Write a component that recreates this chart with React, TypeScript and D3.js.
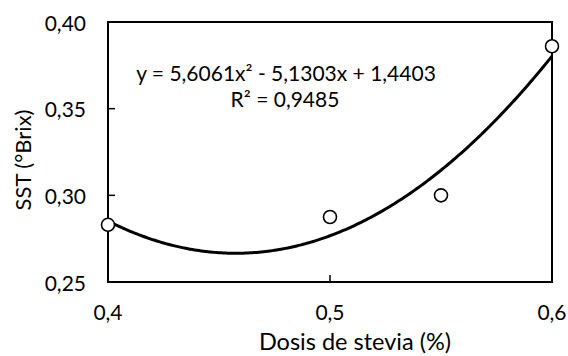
import React from "react";
import * as d3 from "d3";

const doses = [0.4, 0.5, 0.55, 0.6];
const sst = [0.283, 0.2875, 0.3, 0.386];
const xTicks = [0.4, 0.5, 0.6];
const yTicks = [0.25, 0.3, 0.35, 0.4];
const trendCoef = [5.6061, -5.1303, 1.4403];
const equationLabel = "y = 5,6061x² - 5,1303x + 1,4403";
const r2Label = "R² = 0,9485";
const xTitle = "Dosis de stevia (%)";
const yTitle = "SST (°Brix)";

const W = 568;
const H = 356;
const M = { left: 108, right: 552, top: 22, bottom: 282 };
const FONT = "Lato, 'Open Sans', sans-serif";

export default function App() {
  const x = d3.scaleLinear().domain([0.4, 0.6]).range([M.left, M.right]);
  const y = d3.scaleLinear().domain([0.25, 0.4]).range([M.bottom, M.top]);
  const fmt = (v: number, d: number) => v.toFixed(d).replace(".", ",");

  const xs = d3.range(0, 201).map((i) => 0.4 + (0.2 * i) / 200);
  const line = d3
    .line<number>()
    .x((d) => x(d))
    .y((d) => y(trendCoef[0] * d * d + trendCoef[1] * d + trendCoef[2]))
    .curve(d3.curveLinear);

  return (
    <svg
      width={W}
      height={H}
      style={{ position: "absolute", left: 0, top: 0, background: "#fff" }}
      fontFamily={FONT}
    >
      <rect x={0} y={0} width={W} height={H} fill="#fff" />
      <rect
        x={M.left}
        y={M.top}
        width={M.right - M.left}
        height={M.bottom - M.top}
        fill="none"
        stroke="#000"
        strokeWidth={2}
      />
      {yTicks.map((t) => (
        <g key={"y" + t}>
          <line x1={M.left} x2={M.left + 7} y1={y(t)} y2={y(t)} stroke="#000" strokeWidth={1.5} />
          <text
            x={M.left - 22}
            y={y(t)}
            textAnchor="end"
            dominantBaseline="central"
            fontSize={21}
            fill="#000"
          >
            {fmt(t, 2)}
          </text>
        </g>
      ))}
      {xTicks.map((t) => (
        <g key={"x" + t}>
          <line x1={x(t)} x2={x(t)} y1={M.bottom} y2={M.bottom - 7} stroke="#000" strokeWidth={1.5} />
          <text x={x(t)} y={320} textAnchor="middle" fontSize={21} fill="#000">
            {fmt(t, 1)}
          </text>
        </g>
      ))}
      <path d={line(xs) || ""} fill="none" stroke="#000" strokeWidth={3} />
      {doses.map((d, i) => (
        <circle key={i} cx={x(d)} cy={y(sst[i])} r={6.5} fill="#fff" stroke="#000" strokeWidth={1.6} />
      ))}
      <text x={286} y={81} textAnchor="middle" fontSize={21} fill="#000">
        {equationLabel}
      </text>
      <text x={285} y={107} textAnchor="middle" fontSize={21} fill="#000">
        {r2Label}
      </text>
      <text x={355} y={350} textAnchor="middle" fontSize={23.5} fill="#000">
        {xTitle}
      </text>
      <text
        transform={`translate(31,160) rotate(-90)`}
        textAnchor="middle"
        fontSize={22}
        fill="#000"
      >
        {yTitle}
      </text>
    </svg>
  );
}
